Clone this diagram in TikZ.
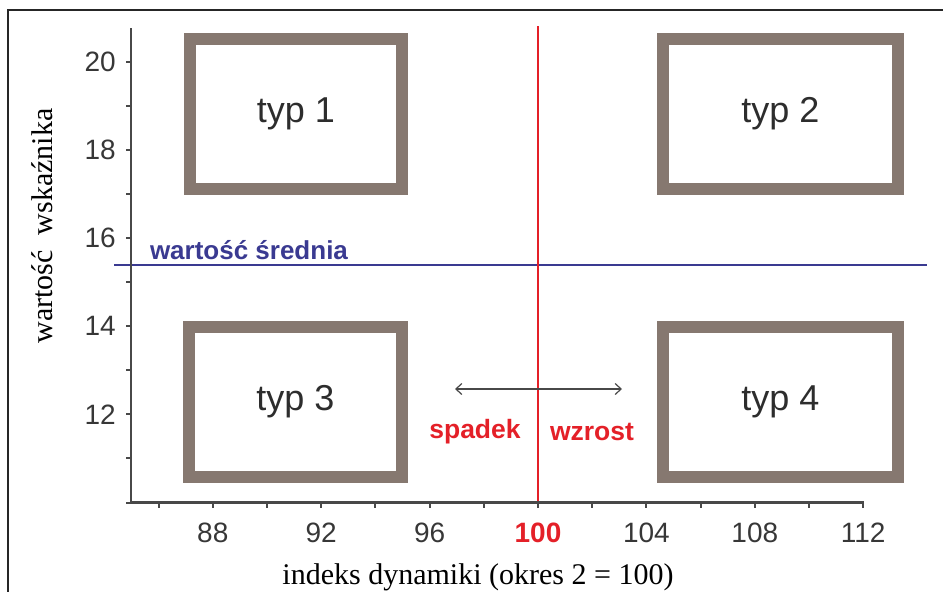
\documentclass[tikz,border=0pt]{standalone}
\usepackage{fontspec}
\setmainfont{Liberation Serif}
\setsansfont{Liberation Sans}
\usetikzlibrary{arrows.meta}
\definecolor{boxc}{RGB}{134,120,112}
\definecolor{axc}{RGB}{72,72,72}
\definecolor{redc}{RGB}{228,32,40}
\definecolor{bluec}{RGB}{58,58,145}
\definecolor{txtc}{RGB}{45,45,45}
\definecolor{tickc}{RGB}{55,55,55}
\begin{document}
\begin{tikzpicture}[x=1pt,y=-1pt,
  quad/.style={draw=boxc, line width=12pt, minimum width=#1, minimum height=150pt,
    inner sep=0pt, font=\sffamily\fontsize{36}{36}\selectfont, text=txtc},
  axline/.style={draw=axc, line width=2.6pt},
  tickline/.style={draw=axc, line width=2pt},
  ticklab/.style={font=\sffamily\fontsize{28}{28}\selectfont, text=tickc, inner sep=0pt},
  redlab/.style={font=\sffamily\bfseries\fontsize{26.5}{26.5}\selectfont, text=redc, inner sep=0pt},
  bluelab/.style={font=\sffamily\bfseries\fontsize{26}{26}\selectfont, text=bluec, inner sep=0pt},
  title/.style={font=\rmfamily\fontsize{30}{30}\selectfont, text=black, inner sep=0pt}]
\useasboundingbox (0,0) rectangle (943,592);
% frame
\coordinate (fbl) at (8,592);
\coordinate (ftl) at (8,10);
\coordinate (ftr) at (943,10);
\draw[line width=1.2pt, black!85] (fbl) -- (ftl) -- (ftr);
% quadrant boxes
\node[quad=212pt] (t1) at (296,114) {typ 1};
\node[quad=235pt] (t2) at (780.5,114) {typ 2};
\node[quad=213pt] (t3) at (295.5,402) {typ 3};
\node[quad=235pt] (t4) at (780.5,402) {typ 4};
% mean line
\coordinate (ml) at (114,265);
\coordinate (mr) at (927,265);
\draw[draw=bluec, line width=2pt] (ml) -- (mr);
\node[bluelab] (mean) at (249,250) {wartość średnia};
% red vertical line at 100
\coordinate (rt) at (538,26);
\coordinate (rb) at (538,502.5);
\draw[draw=redc, line width=1.5pt] (rt) -- (rb);
% arrow
\coordinate (al) at (455,389);
\coordinate (ar) at (622,389);
\draw[draw=axc, line width=1.2pt, {Straight Barb[length=6pt,width=11pt]}-{Straight Barb[length=6pt,width=11pt]}] (al) -- (ar);
\node[redlab] (sp) at (475,432) {spadek};
\node[redlab] (wz) at (592,432) {wzrost};
% axes
\coordinate (ytop) at (131,28);
\coordinate (O) at (131,502.5);
\coordinate (xend) at (863.5,502.5);
\draw[axline] (ytop) -- (O) -- (xend);
\foreach \v in {86,88,...,112}
  \draw[tickline] ({538+27.1*(\v-100)},502.5) -- ++(0,5);
\foreach \v in {10,...,20}
  \draw[tickline] (131,{502.5-44.1*(\v-10)}) -- ++(-5,0);
\foreach \v in {12,14,...,20}
  \node[ticklab, anchor=east] (yl\v) at (116,{502.5-44.1*(\v-10)}) {\v};
\foreach \v in {88,92,96,104,108,112}
  \node[ticklab] (xl\v) at ({538+27.1*(\v-100)},533) {\v};
\node[ticklab, font=\sffamily\bfseries\fontsize{28}{28}\selectfont, text=redc] (xl100) at (538,533) {100};
% axis titles
\node[title, rotate=90] (ytitle) at (42,226) {wartość\ \ wskaźnika};
\node[title] (xtitle) at (478,577) {indeks dynamiki (okres 2 = 100)};
\end{tikzpicture}
\end{document}
